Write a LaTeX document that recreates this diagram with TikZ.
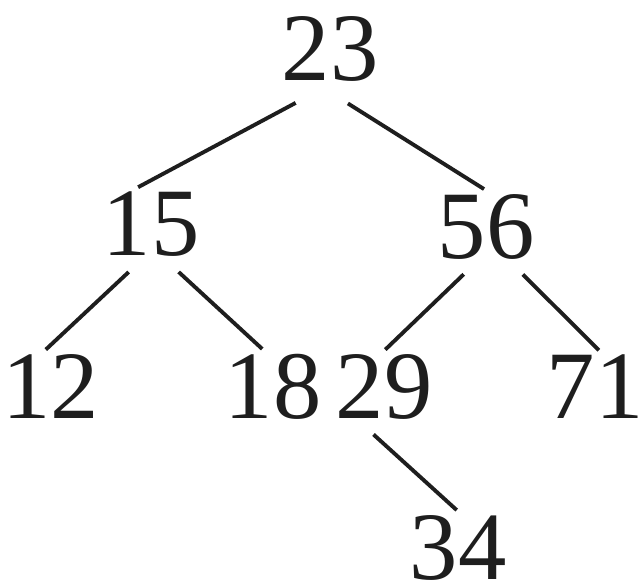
\documentclass[tikz,border=0pt]{standalone}
\usepackage{fontspec}
\setmainfont{Liberation Serif}
\definecolor{cink}{HTML}{1E1E1E}
\tikzset{
  every picture/.style={line width=2.2pt},
  num/.style={text=cink, font=\fontsize{55}{60}\selectfont, inner xsep=0pt, inner ysep=0.06cm},
  link/.style={draw=cink, shorten <=0.3cm},
}

\begin{document}
\begin{tikzpicture}
  \useasboundingbox (0,0) rectangle (12.76,-11.76);
  % keys of the tree
  \foreach \k/\x/\y in {23/6.60/-0.97, 15/3.02/-4.49, 56/9.72/-4.53, 12/1.02/-7.73,
                        18/5.46/-7.73, 29/7.68/-7.74, 71/11.90/-7.74, 34/9.16/-10.95} {
    \node[num] (n\k) at (\x, \y) {\k};
  }
  \draw[link, shorten <=0.72cm] (n23.266) -- (n15.109);
  \draw[link, shorten <=0.66cm] (n23.255) -- (n56.93);
  \foreach \a/\b/\p/\c in {15/12/253/98, 15/18/294/106, 56/29/253/88, 56/71/305/84, 29/34/240/92} {
    \draw[link] (n\a.\p) -- (n\b.\c);
  }
\end{tikzpicture}
\end{document}
